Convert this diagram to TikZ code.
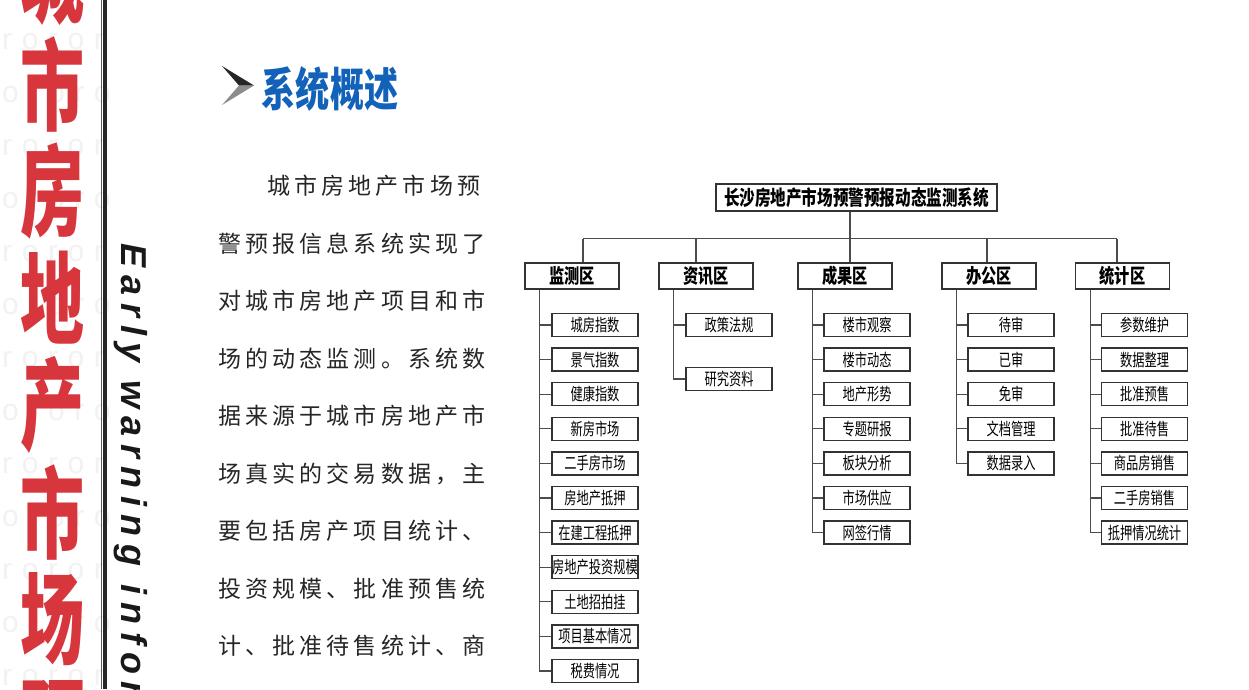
\documentclass[tikz,border=0pt]{standalone}
\usepackage{fontspec}
\usetikzlibrary{calc}
\newfontfamily\treefont[FakeStretch=0.76]{Noto Sans CJK SC}
\newfontfamily\itemfont[FakeStretch=0.72]{Noto Sans CJK SC}
\newfontfamily\redfont[FakeStretch=0.64]{Noto Sans CJK SC}
\newfontfamily\titlefont[FakeStretch=0.74]{Noto Sans CJK SC}
\newfontfamily\bodyfont[LetterSpace=18]{Noto Sans CJK SC}
\newfontfamily\engfont[LetterSpace=22]{Liberation Sans}
\newfontfamily\wmfont[LetterSpace=32]{Liberation Sans}
\definecolor{TitleBlue}{RGB}{18,98,186}
\definecolor{BigRed}{RGB}{214,54,60}

\begin{document}
\begin{tikzpicture}[x=1pt,y=-1pt,
    rootbox/.style={draw=black!80,line width=1.5pt,minimum width=281pt,minimum height=27pt,inner sep=0pt,font=\treefont\bfseries\fontsize{20.5}{20.5}\selectfont},
    zonebox/.style={draw=black!80,line width=1.5pt,minimum width=94pt,minimum height=26pt,inner sep=0pt,font=\treefont\bfseries\fontsize{20}{20}\selectfont},
    itembox/.style={draw=black!80,line width=1.3pt,minimum width=86pt,minimum height=23pt,inner sep=0pt,font=\itemfont\fontsize{17}{17}\selectfont},
    link/.style={draw=black!70,line width=1.2pt},
    bigchar/.style={text=BigRed,inner sep=0pt,font=\redfont\bfseries\fontsize{100}{100}\selectfont},
    bodyline/.style={anchor=west,inner sep=0pt,text=black!85,font=\bodyfont\fontsize{23}{23}\selectfont},
    wmark/.style={anchor=west,inner sep=0pt,text=black!5,font=\wmfont\fontsize{30}{30}\selectfont}]
  \useasboundingbox (0,0) rectangle (1249,689);
  \clip (0,0) rectangle (1249,689);
  \fill[white] (0,0) rectangle (1249,689);

  % left band: watermark, red heading, rule, english line
  \foreach \y [count=\k] in {42,95,148,201,254,307,360,413,466,519,572,625,678}
    \node[wmark] (wm\k) at (2,\y) {\ifodd\k roror\else ororo\fi};
  \foreach \c [count=\i] in {城,市,房,地,产,市,场,预}
    \node[bigchar] (hz\i) at (52,{-23+107*(\i-1)}) {\c};
  \draw[black!65,line width=0.8pt] (101,0) -- (101,689);
  \draw[black!85,line width=3.2pt] (105,0) -- (105,689);
  \node[anchor=base west,rotate=-90,inner sep=0pt,text=black!90,
        font=\engfont\bfseries\itshape\fontsize{36}{36}\selectfont] (eng) at (121,243) {Early warning information};

  % title
  \fill[black!85] (222,66) -- (254,85.5) -- (239,85.5) -- cycle;
  \fill[black!45] (239,85.5) -- (254,85.5) -- (222,105) -- cycle;
  \node[inner sep=0pt,text=TitleBlue,font=\titlefont\bfseries\fontsize{46}{46}\selectfont] (title) at (330,89) {系统概述};

  % paragraph
  \node[bodyline] (p1) at (267,186) {城市房地产市场预};
  \foreach \ln [count=\i from 2] in {警预报信息系统实现了,对城市房地产项目和市,场的动态监测。系统数,据来源于城市房地产市,场真实的交易数据，主,要包括房产项目统计、,投资规模、批准预售统,计、批准待售统计、商}
    \node[bodyline] (p\i) at (218,{186+57.5*(\i-1)}) {\ln};

  % tree
  \node[rootbox] (root) at (856.5,197.5) {长沙房地产市场预警预报动态监测系统};
  \node[zonebox] (jc) at (572,276) {监测区};
  \node[zonebox] (zx) at (706,276) {资讯区};
  \node[zonebox] (cg) at (845,276) {成果区};
  \node[zonebox] (bg) at (989,276) {办公区};
  \node[zonebox] (tj) at (1122.5,276) {统计区};

  \coordinate (b1) at (583,238.5);
  \coordinate (b2) at (696,238.5);
  \coordinate (b3) at (850,238.5);
  \coordinate (b4) at (987,238.5);
  \coordinate (b5) at (1117,238.5);
  \draw[link] (root.south -| b3) -- (b3);
  \draw[link] (b1) -- (b5);
  \foreach \b/\z in {b1/jc,b2/zx,b3/cg,b4/bg,b5/tj}
    \draw[link] (\b) -- (\b |- \z.north);

  \foreach \lbl [count=\i] in {城房指数,景气指数,健康指数,新房市场,二手房市场,房地产抵押,在建工程抵押,房地产投资规模,土地招拍挂,项目基本情况,税费情况}
    \node[itembox] (jc\i) at (595,{325+34.6*(\i-1)}) {\lbl};
  \foreach \lbl [count=\i] in {政策法规,研究资料}
    \node[itembox] (zx\i) at (729,{325+54*(\i-1)}) {\lbl};
  \foreach \lbl [count=\i] in {楼市观察,楼市动态,地产形势,专题研报,板块分析,市场供应,网签行情}
    \node[itembox] (cg\i) at (867,{325+34.6*(\i-1)}) {\lbl};
  \foreach \lbl [count=\i] in {待审,已审,免审,文档管理,数据录入}
    \node[itembox] (bg\i) at (1011,{325+34.6*(\i-1)}) {\lbl};
  \foreach \lbl [count=\i] in {参数维护,数据整理,批准预售,批准待售,商品房销售,二手房销售,抵押情况统计}
    \node[itembox] (tj\i) at (1144.5,{325+34.6*(\i-1)}) {\lbl};

  \foreach \i in {1,...,11} \draw[link] ($(jc.south west)+(15.5,0)$) |- (jc\i.west);
  \foreach \i in {1,2} \draw[link] ($(zx.south west)+(15.5,0)$) |- (zx\i.west);
  \foreach \i in {1,...,7} \draw[link] ($(cg.south west)+(15.5,0)$) |- (cg\i.west);
  \foreach \i in {1,...,5} \draw[link] ($(bg.south west)+(15.5,0)$) |- (bg\i.west);
  \foreach \i in {1,...,7} \draw[link] ($(tj.south west)+(15.5,0)$) |- (tj\i.west);
\end{tikzpicture}
\end{document}
